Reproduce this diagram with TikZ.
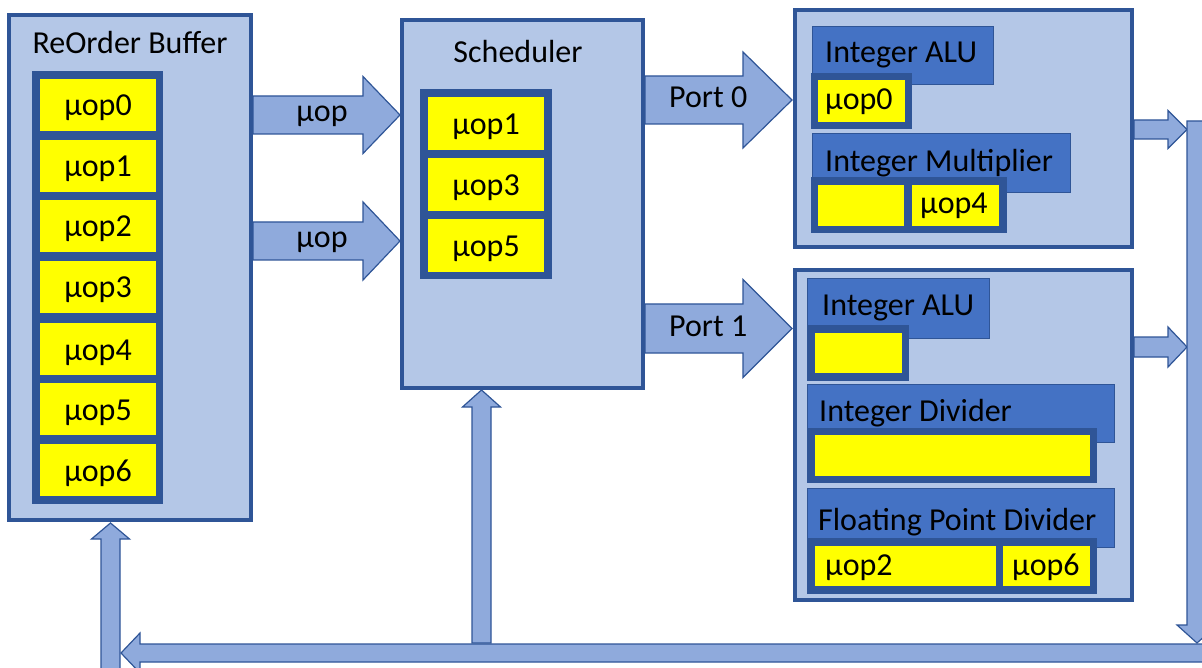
\documentclass[tikz,border=0pt]{standalone}
\usepackage{fontspec}
\setmainfont{Carlito}
\definecolor{boxfill}{HTML}{B4C7E7}
\definecolor{dkblue}{HTML}{2F5597}
\definecolor{arrfill}{HTML}{8FAADC}
\definecolor{hdrblue}{HTML}{4472C4}
\definecolor{yel}{HTML}{FFFF00}
\tikzset{
  outerbox/.style={draw=dkblue, fill=boxfill, line width=4pt, rectangle, inner sep=0pt, outer sep=0pt},
  holder/.style={fill=dkblue, rectangle, inner sep=0pt, outer sep=0pt},
  cellbox/.style={fill=yel, rectangle, inner sep=0pt, outer sep=0pt},
  hdr/.style={fill=hdrblue, draw=dkblue, line width=1pt, rectangle, inner sep=0pt, outer sep=0pt},
  barrow/.style={fill=arrfill, draw=dkblue, line width=1.2pt, line join=miter},
  txt/.style={font=\fontsize{32}{38}\selectfont, inner sep=0pt, text=black},
}
% #1 style, #2 name, #3 x1, #4 y1, #5 x2, #6 y2
\newcommand\rectnode[6]{\node[#1, anchor=north west, minimum width={(#5-#3)*1pt}, minimum height={(#6-#4)*1pt}] (#2) at (#3,#4) {};}
% horizontal block arrow: #1 start x, #2 tip x, #3 head base x, #4 centre y, #5 shaft half, #6 head half
\newcommand\harrow[6]{\draw[barrow] (#1,#4-#5) -- (#3,#4-#5) -- (#3,#4-#6) -- (#2,#4) -- (#3,#4+#6) -- (#3,#4+#5) -- (#1,#4+#5) -- cycle;}
% vertical block arrow: #1 start y, #2 tip y, #3 head base y, #4 centre x, #5 shaft half, #6 head half
\newcommand\varrow[6]{\draw[barrow] (#4-#5,#1) -- (#4-#5,#3) -- (#4-#6,#3) -- (#4,#2) -- (#4+#6,#3) -- (#4+#5,#3) -- (#4+#5,#1) -- cycle;}
\begin{document}
\begin{tikzpicture}[x=1pt,y=-1pt]
\useasboundingbox (0,0) rectangle (1202,668);
\clip (0,0) rectangle (1202,668);

% ---------- ReOrder Buffer ----------
\rectnode{outerbox}{rob}{9}{15}{251}{520}
\node[txt, anchor=base] (robt) at (130,54) {ReOrder Buffer};
\rectnode{holder}{robh}{32}{71}{163}{504}
\foreach \i/\t in {0/79,1/140,2/200,3/261,4/323,5/383,6/444}{
  \rectnode{cellbox}{robc\i}{40}{\t}{156}{\t+52}
  \node[txt, anchor=base] (robl\i) at (98,\t+37) {µop\i};
}

% ---------- Scheduler ----------
\rectnode{outerbox}{sch}{402}{20}{643}{388}
\node[txt, anchor=base] (scht) at (518,63) {Scheduler};
\rectnode{holder}{schh}{420}{89}{552}{279}
\foreach \i/\n/\t in {1/1/97,2/3/158,3/5/219}{
  \rectnode{cellbox}{schc\i}{428}{\t}{544}{\t+53}
  \node[txt, anchor=base] (schl\i) at (486,\t+38) {µop\n};
}

% ---------- Execution unit box 1 ----------
\rectnode{outerbox}{ex1}{795}{10}{1132}{247}
\rectnode{hdr}{alu1}{812}{27}{993}{85}
\node[txt, anchor=base west] (alu1t) at (825,63) {Integer ALU};
\rectnode{holder}{alu1h}{811}{73}{912}{129}
\rectnode{cellbox}{alu1c}{818}{80}{905}{122}
\node[txt, anchor=base west] (alu1l) at (825,110) {µop0};
\rectnode{hdr}{mul}{812}{134}{1070}{193}
\node[txt, anchor=base west] (mult) at (825,172) {Integer Multiplier};
\rectnode{holder}{mulh}{811}{177}{1007}{233}
\rectnode{cellbox}{mulc1}{818}{185}{904}{226}
\rectnode{cellbox}{mulc2}{912}{185}{999}{226}
\node[txt, anchor=base west] (mull) at (920,214) {µop4};

% ---------- Execution unit box 2 ----------
\rectnode{outerbox}{ex2}{795}{270}{1132}{600}
\rectnode{hdr}{alu2}{807}{279}{989}{338}
\node[txt, anchor=base west] (alu2t) at (822,316) {Integer ALU};
\rectnode{holder}{alu2h}{807}{325}{909}{381}
\rectnode{cellbox}{alu2c}{815}{333}{902}{373}
\rectnode{hdr}{div}{807}{384}{1114}{442}
\node[txt, anchor=base west] (divt) at (819,421) {Integer Divider};
\rectnode{holder}{divh}{807}{428}{1097}{483}
\rectnode{cellbox}{divc}{815}{435}{1090}{476}
\rectnode{hdr}{fpd}{807}{488}{1114}{547}
\node[txt, anchor=base west] (fpdt) at (818,530) {Floating Point Divider};
\rectnode{holder}{fpdh}{807}{538}{1097}{594}
\rectnode{cellbox}{fpdc1}{815}{546}{996}{586}
\rectnode{cellbox}{fpdc2}{1003}{546}{1090}{586}
\node[txt, anchor=base west] (fpdl1) at (825,575) {µop2};
\node[txt, anchor=base west] (fpdl2) at (1012,575) {µop6};

% ---------- Arrows ----------
\harrow{253}{400}{363}{115}{19}{38.5}
\node[txt, anchor=base] (a1t) at (322,122) {µop};
\harrow{253}{400}{363}{241}{19}{39}
\node[txt, anchor=base] (a2t) at (322,248) {µop};
\harrow{645}{792}{743}{100}{24}{48}
\node[txt, anchor=base west] (p0t) at (669,108) {Port 0};
\harrow{645}{792}{743}{328.5}{24.5}{49}
\node[txt, anchor=base west] (p1t) at (669,337) {Port 1};
\harrow{1134}{1187}{1168}{129.5}{9.5}{19}
\harrow{1134}{1187}{1168}{347}{10}{20}
\varrow{121}{643}{625}{1197}{10}{20}
\harrow{1230}{121}{140}{653}{9}{20}
\varrow{690}{523}{539}{110.5}{9.5}{19}
\varrow{643}{390}{407}{481.5}{9.5}{19}
\end{tikzpicture}
\end{document}
